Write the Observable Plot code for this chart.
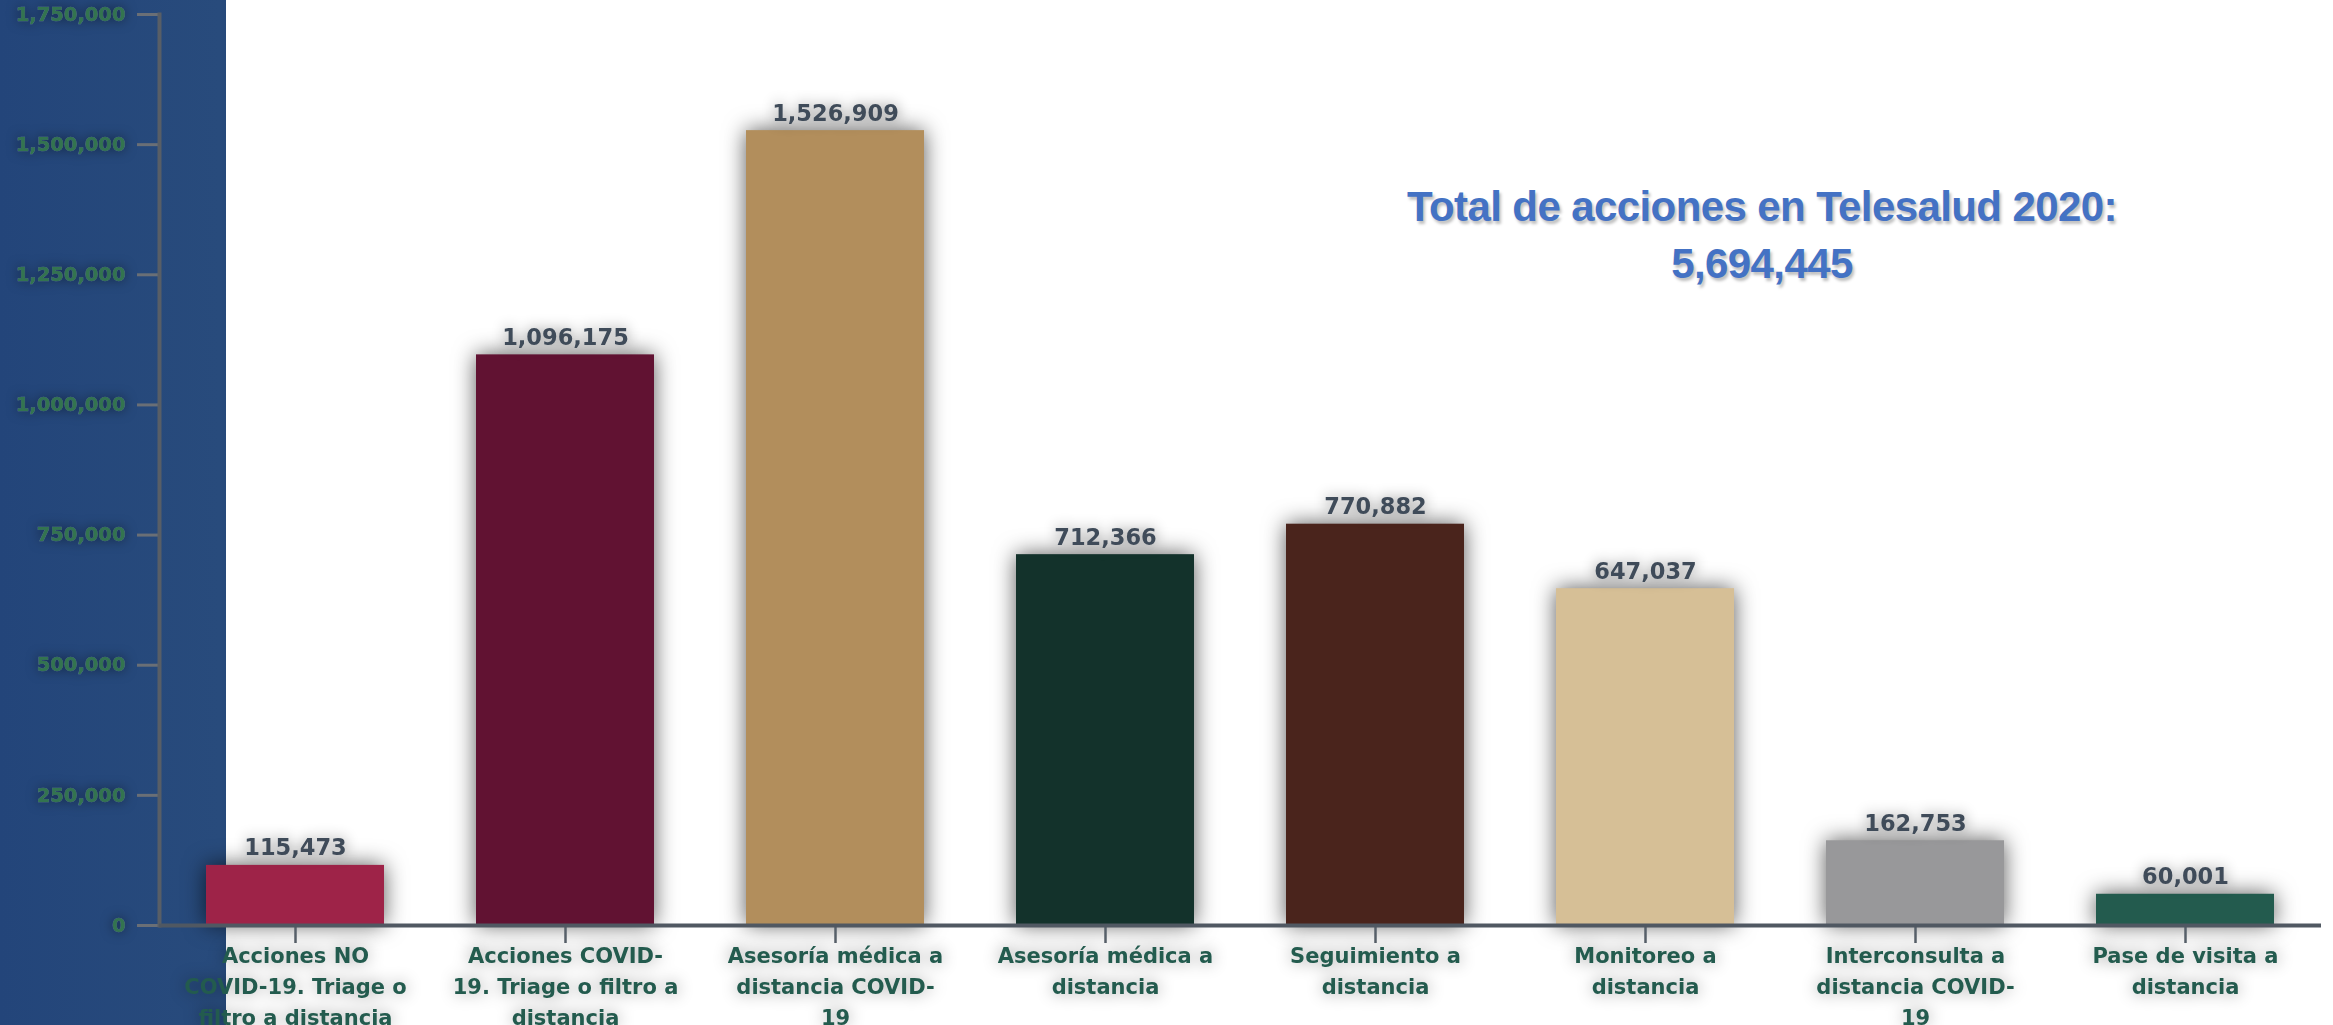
<!DOCTYPE html>
<html>
<head>
<meta charset="utf-8">
<script src="https://cdn.jsdelivr.net/npm/d3@7"></script>
<script src="https://cdn.jsdelivr.net/npm/@observablehq/plot@0.6"></script>
<style>
  html, body { margin: 0; padding: 0; background: #ffffff; overflow: hidden; }
  #wrap {
    position: relative; width: 2333px; height: 1025px;
    background: linear-gradient(to right, #23457a 0px, #284b7c 220px, #26497a 226px, #ffffff 226px);
  }
  #wrap svg { position: absolute; left: 0; top: 0; }
  #title {
    position: absolute; left: 1362px; width: 800px; top: 178px;
    text-align: center; font-family: "Liberation Sans Narrow", "Liberation Sans", sans-serif;
    font-weight: bold; font-size: 42px; line-height: 57px; color: #4472c4; letter-spacing: -0.6px;
    text-shadow: 2px 3px 3px rgba(0,0,0,0.25);
  }
  g[aria-label="bar"] rect { filter: drop-shadow(0 0 11px rgba(0,0,0,0.65)); }
  g[aria-label="text"] text { filter: drop-shadow(0 0 7px rgba(0,0,0,0.45)); }
  g[aria-label="x-axis tick label"] text { filter: drop-shadow(0 0 8px rgba(0,0,0,0.4)); }
  g[aria-label="y-axis tick label"] text { filter: drop-shadow(0 0 6px rgba(0,0,0,0.55)); stroke: rgba(170,200,185,0.45); stroke-width: 0.6px; paint-order: stroke; }
</style>
</head>
<body>
<div id="wrap">
  <div id="title">Total de acciones en Telesalud 2020:<br>5,694,445</div>
</div>
<script>
const categories = [
  "Acciones NO COVID-19. Triage o filtro a distancia",
  "Acciones COVID-19. Triage o filtro a distancia",
  "Asesoría médica a distancia COVID-19",
  "Asesoría médica a distancia",
  "Seguimiento a distancia",
  "Monitoreo a distancia",
  "Interconsulta a distancia COVID-19",
  "Pase de visita a distancia"
];
const tickLabels = [
  "Acciones NO\nCOVID-19. Triage o\nfiltro a distancia",
  "Acciones COVID-\n19. Triage o filtro a\ndistancia",
  "Asesoría médica a\ndistancia COVID-\n19",
  "Asesoría médica a\ndistancia",
  "Seguimiento a\ndistancia",
  "Monitoreo a\ndistancia",
  "Interconsulta a\ndistancia COVID-\n19",
  "Pase de visita a\ndistancia"
];
const values = [115473, 1096175, 1526909, 712366, 770882, 647037, 162753, 60001];
const colors = ["#9e2348", "#611232", "#b28e5c", "#13322b", "#4a241c", "#d6bf96", "#98989a", "#235b4e"];
const yTicks = [0, 250000, 500000, 750000, 1000000, 1250000, 1500000, 1750000];

const data = categories.map((c, i) => ({cat: c, value: values[i], color: colors[i]}));
const fmt = d3.format(",");
const font = "'DejaVu Sans', Verdana, sans-serif";

const chart = Plot.plot({
  width: 2333,
  height: 1025,
  marginTop: 14,
  marginBottom: 100,
  marginLeft: 159,
  marginRight: 12,
  style: {background: "transparent", overflow: "visible", fontFamily: font},
  x: {domain: categories, paddingInner: 0.34, paddingOuter: 0.17, label: null},
  y: {domain: [0, 1750000], label: null},
  color: {type: "identity"},
  marks: [
    Plot.barY(data, {x: "cat", y: "value", fill: "color"}),
    Plot.text(data, {
      x: "cat", y: "value", text: d => fmt(d.value),
      lineAnchor: "bottom", dy: -10,
      fill: "#3f4b59", fontSize: 22.5, fontWeight: "bold"
    }),
    Plot.axisY({
      ticks: yTicks, tickFormat: fmt, tickSize: 22, tickPadding: 12,
      stroke: "#6a6f76", strokeWidth: 3,
      fill: "#33744f", fontSize: 19.5, fontWeight: "bold", label: null
    }),
    Plot.axisX({
      tickFormat: d => tickLabels[categories.indexOf(d)],
      tickSize: 18, tickPadding: -3,
      stroke: "#57606a", strokeWidth: 2.5,
      fill: "#235b4e", fontSize: 21, fontWeight: "bold", lineHeight: 1.48, label: null
    }),
    Plot.frame({anchor: "left", stroke: "#585e66", strokeWidth: 4}),
    Plot.ruleY([0], {stroke: "#505862", strokeWidth: 4})
  ]
});

document.getElementById("wrap").prepend(chart);
</script>
</body>
</html>
